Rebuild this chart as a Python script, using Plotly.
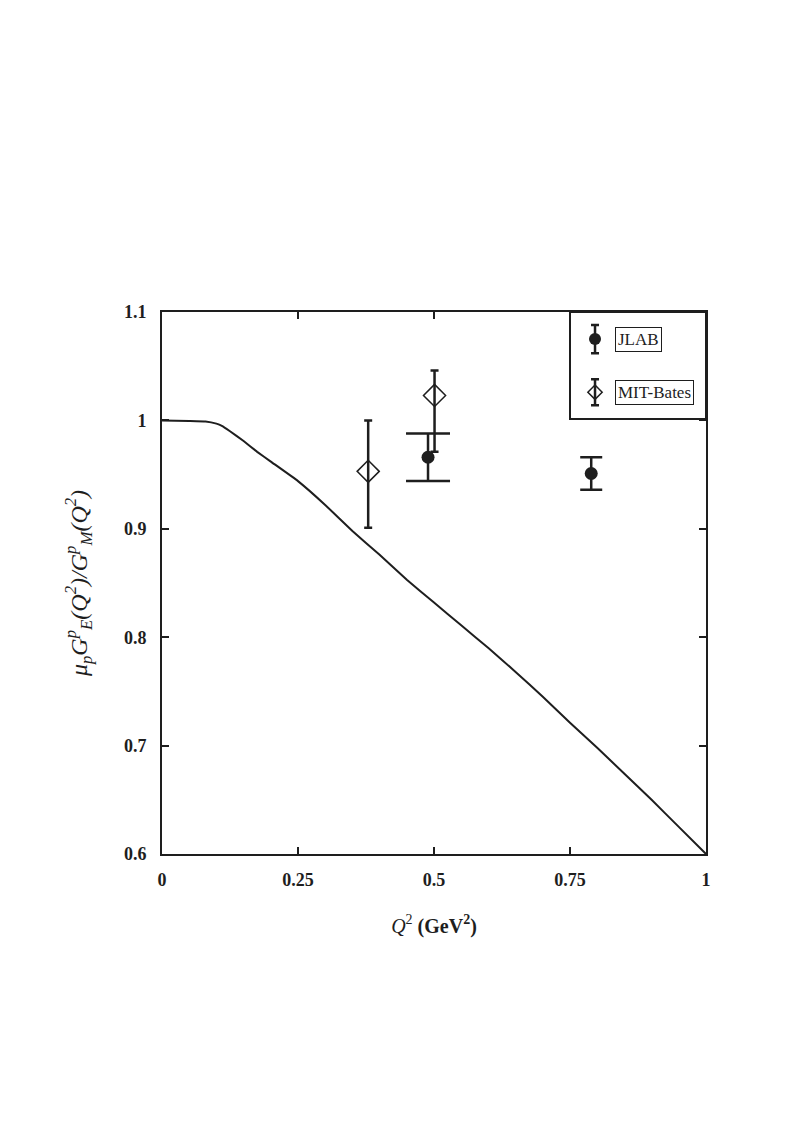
import plotly.graph_objects as go

# Theory curve
curve_q2 = [0, 0.05, 0.08, 0.1, 0.11, 0.125, 0.15, 0.175, 0.2, 0.25, 0.3, 0.35, 0.4,
            0.45, 0.5, 0.55, 0.6, 0.65, 0.7, 0.75, 0.8, 0.85, 0.9, 0.95, 1.0]
curve_ratio = [1.0, 0.9995, 0.999, 0.997, 0.995, 0.990, 0.981, 0.971, 0.962, 0.944,
               0.922, 0.898, 0.876, 0.853, 0.832, 0.811, 0.790, 0.768, 0.745, 0.721,
               0.698, 0.674, 0.650, 0.625, 0.600]

# JLAB data
jlab_q2 = [0.489, 0.789]
jlab_ratio = [0.966, 0.951]
jlab_err_plus = [0.022, 0.015]
jlab_err_minus = [0.022, 0.015]

# MIT-Bates data
mit_q2 = [0.379, 0.501]
mit_ratio = [0.953, 1.023]
mit_err_plus = [0.047, 0.023]
mit_err_minus = [0.052, 0.052]

INK = "#1e1e1e"
FONT = "Liberation Serif"

fig = go.Figure()

fig.add_trace(go.Scatter(x=curve_q2, y=curve_ratio, mode="lines",
                         line=dict(color=INK, width=2, shape="spline", smoothing=0.3),
                         showlegend=False, hoverinfo="skip"))

# MIT-Bates (each point its own cap width)
for i in range(len(mit_q2)):
    fig.add_trace(go.Scatter(
        x=[mit_q2[i]], y=[mit_ratio[i]], mode="markers",
        marker=dict(symbol="diamond-open", size=17, color=INK, line=dict(width=1.5, color=INK)),
        error_y=dict(type="data", symmetric=False, array=[mit_err_plus[i]],
                     arrayminus=[mit_err_minus[i]], color=INK, thickness=2.5, width=4),
        showlegend=False))

# JLAB with differing cap widths
jlab_caps = [22, 11]
for i in range(len(jlab_q2)):
    fig.add_trace(go.Scatter(
        x=[jlab_q2[i]], y=[jlab_ratio[i]], mode="markers",
        marker=dict(symbol="circle", size=13, color=INK),
        error_y=dict(type="data", symmetric=False, array=[jlab_err_plus[i]],
                     arrayminus=[jlab_err_minus[i]], color=INK, thickness=2.5,
                     width=jlab_caps[i]),
        showlegend=False))

# Custom legend symbols
fig.add_trace(go.Scatter(
    x=[0.796], y=[1.075], mode="markers",
    marker=dict(symbol="circle", size=12, color=INK),
    error_y=dict(type="data", array=[0.013], color=INK, thickness=2.5, width=4),
    showlegend=False, hoverinfo="skip"))
fig.add_trace(go.Scatter(
    x=[0.796], y=[1.026], mode="markers",
    marker=dict(symbol="diamond-open", size=11, color=INK, line=dict(width=1.5, color=INK)),
    error_y=dict(type="data", array=[0.012], color=INK, thickness=2.5, width=4),
    showlegend=False, hoverinfo="skip"))

fig.add_shape(type="rect", xref="paper", yref="paper", x0=0.75, x1=1.0, y0=0.8026, y1=1.0,
              line=dict(color=INK, width=2), fillcolor="rgba(0,0,0,0)")

fig.add_annotation(xref="paper", yref="y", x=0.833, y=1.075, xanchor="left", yanchor="middle",
                   text="JLAB", showarrow=False, bordercolor=INK, borderwidth=1, borderpad=2,
                   font=dict(family=FONT, size=17, color=INK))
fig.add_annotation(xref="paper", yref="y", x=0.833, y=1.026, xanchor="left", yanchor="middle",
                   text="MIT-Bates", showarrow=False, bordercolor=INK, borderwidth=1, borderpad=2,
                   font=dict(family=FONT, size=17, color=INK))

x_ticks = [0, 0.25, 0.5, 0.75, 1]
x_tick_labels = ["0", "0.25", "0.5", "0.75", "1"]
y_ticks = [0.6, 0.7, 0.8, 0.9, 1.0, 1.1]
y_tick_labels = ["0.6", "0.7", "0.8", "0.9", "1", "1.1"]

fig.update_layout(
    width=810, height=1144,
    margin=dict(l=154, r=112, t=304, b=298),
    paper_bgcolor="white", plot_bgcolor="white",
    font=dict(family=FONT, color=INK, size=15),
    xaxis=dict(range=[0, 1], tickvals=x_ticks,
               ticktext=["<b>%s</b>" % t for t in x_tick_labels],
               ticks="inside", ticklen=7, tickwidth=2, tickcolor=INK,
               showline=True, linewidth=2, linecolor=INK, mirror="ticks",
               showgrid=False, zeroline=False, ticklabelstandoff=8,
               tickfont=dict(family=FONT, size=18, color=INK),
               title=dict(text="<i>Q</i><sup>2</sup> <b>(GeV<sup>2</sup>)</b>",
                          font=dict(family=FONT, size=20, color=INK), standoff=30)),
    yaxis=dict(range=[0.6, 1.1], tickvals=y_ticks,
               ticktext=["<b>%s</b>" % t for t in y_tick_labels],
               ticks="inside", ticklen=7, tickwidth=2, tickcolor=INK,
               showline=True, linewidth=2, linecolor=INK, mirror="ticks",
               showgrid=False, zeroline=False, ticklabelstandoff=10,
               tickfont=dict(family=FONT, size=18, color=INK),
               title=dict(text="<i>μ<sub>p</sub>G<sup>p</sup><sub>E</sub>(Q<sup>2</sup>)/G<sup>p</sup><sub>M</sub>(Q<sup>2</sup>)</i>",
                          font=dict(family=FONT, size=24, color=INK), standoff=30)),
)

fig.write_html("out.html")
